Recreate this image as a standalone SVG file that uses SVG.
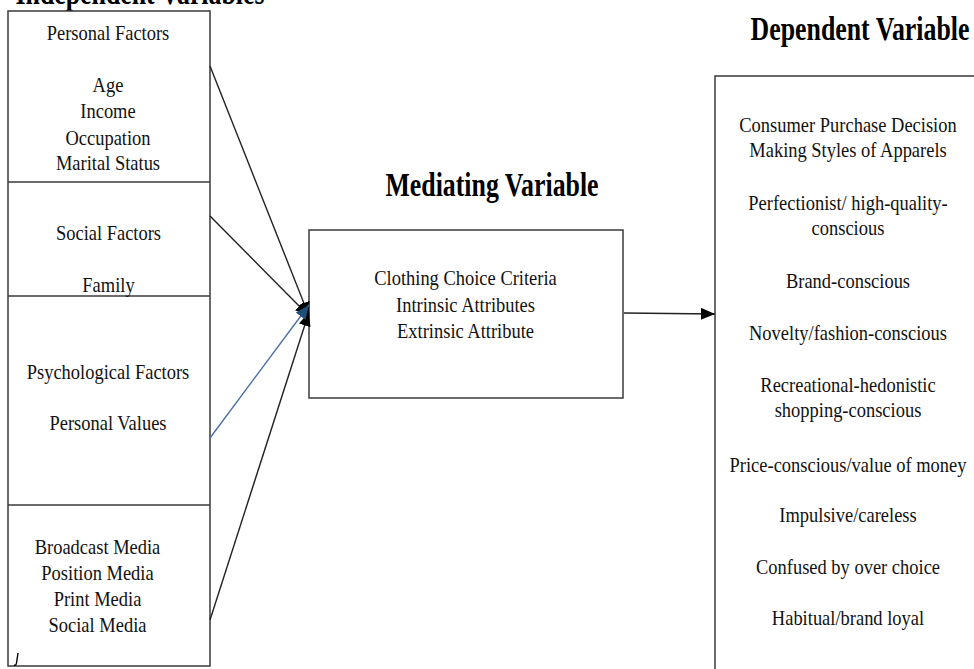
<svg xmlns="http://www.w3.org/2000/svg" width="974" height="669" viewBox="0 0 974 669">
<style>
.box{fill:#fff;stroke:#3a3a3a;stroke-width:1.5}
.div{stroke:#3a3a3a;stroke-width:1.5}
.t{font-family:"Liberation Serif","Times New Roman",serif;font-size:22px;fill:#111;text-anchor:middle}
.h{font-family:"Liberation Serif","Times New Roman",serif;font-size:34px;font-weight:bold;fill:#000;text-anchor:middle}
.ln{stroke:#222;stroke-width:1.4;fill:none}
.bl{stroke:#4a6fa5;stroke-width:1.4;fill:none}
</style>
<defs>
<marker id="ah" viewBox="0 0 14 12" refX="14" refY="6" markerWidth="14" markerHeight="12" markerUnits="userSpaceOnUse" orient="auto">
<path d="M0,0 L14,6 L0,12 Z" fill="#000"/>
</marker>
<marker id="ahb" viewBox="0 0 14 12" refX="14" refY="6" markerWidth="14" markerHeight="12" markerUnits="userSpaceOnUse" orient="auto">
<path d="M0,0 L14,6 L0,12 Z" fill="#1f4e79"/>
</marker>
</defs>
<rect width="974" height="669" fill="#fff"/>

<g id="titles">
<g transform="translate(140 0) scale(0.76 1)"><text class="h" x="0" y="4">Independent Variables</text></g>
<g transform="translate(492 0) scale(0.76 1)"><text class="h" x="0" y="196">Mediating Variable</text></g>
<g transform="translate(860 0) scale(0.76 1)"><text class="h" x="0" y="40">Dependent Variable</text></g>
</g>

<g id="independent">
<rect class="box" x="8" y="11" width="202" height="655"/>
<line class="div" x1="8" y1="182" x2="210" y2="182"/>
<line class="div" x1="8" y1="296" x2="210" y2="296"/>
<line class="div" x1="8" y1="505" x2="210" y2="505"/>
<path d="M18,653 L16.5,663 Q16,666 14,665" fill="none" stroke="#000" stroke-width="1.4"/>
</g>

<g id="personal-factors" transform="translate(108 0) scale(0.84 1)">
<text class="t" x="0" y="40">Personal Factors</text>
<text class="t" x="0" y="92">Age</text>
<text class="t" x="0" y="118">Income</text>
<text class="t" x="0" y="145">Occupation</text>
<text class="t" x="0" y="170">Marital Status</text>
</g>

<g id="social-factors" transform="translate(108.5 0) scale(0.84 1)">
<text class="t" x="0" y="240">Social Factors</text>
<text class="t" x="0" y="292">Family</text>
</g>

<g id="psychological-factors" transform="translate(108 0) scale(0.84 1)">
<text class="t" x="0" y="379">Psychological Factors</text>
<text class="t" x="0" y="430">Personal Values</text>
</g>

<g id="media" transform="translate(97.5 0) scale(0.84 1)">
<text class="t" x="0" y="554">Broadcast Media</text>
<text class="t" x="0" y="580">Position Media</text>
<text class="t" x="0" y="606">Print Media</text>
<text class="t" x="0" y="632">Social Media</text>
</g>

<g id="mediating">
<rect class="box" x="309" y="230" width="314" height="168"/>
<g transform="translate(465.5 0) scale(0.84 1)">
<text class="t" x="0" y="285">Clothing Choice Criteria</text>
<text class="t" x="0" y="312">Intrinsic Attributes</text>
<text class="t" x="0" y="338">Extrinsic Attribute</text>
</g>
</g>

<g id="dependent">
<rect class="box" x="715" y="76" width="300" height="640"/>
<g transform="translate(848 0) scale(0.84 1)">
<text class="t" x="0" y="132">Consumer Purchase Decision</text>
<text class="t" x="0" y="157">Making Styles of Apparels</text>
<text class="t" x="0" y="210">Perfectionist/ high-quality-</text>
<text class="t" x="0" y="235">conscious</text>
<text class="t" x="0" y="288">Brand-conscious</text>
<text class="t" x="0" y="340">Novelty/fashion-conscious</text>
<text class="t" x="0" y="392">Recreational-hedonistic</text>
<text class="t" x="0" y="417">shopping-conscious</text>
<text class="t" x="0" y="472">Price-conscious/value of money</text>
<text class="t" x="0" y="522">Impulsive/careless</text>
<text class="t" x="0" y="574">Confused by over choice</text>
<text class="t" x="0" y="625">Habitual/brand loyal</text>
</g>
</g>

<g id="connectors">
<line class="ln" x1="210" y1="66" x2="309" y2="316" marker-end="url(#ah)"/>
<line class="ln" x1="210" y1="216" x2="309" y2="316" marker-end="url(#ah)"/>
<line class="ln" x1="210" y1="620" x2="309" y2="312" marker-end="url(#ah)"/>
<line class="bl" x1="210" y1="438" x2="309" y2="305" marker-end="url(#ahb)"/>
<line class="ln" x1="624" y1="313" x2="715" y2="314" marker-end="url(#ah)"/>
</g>
</svg>
